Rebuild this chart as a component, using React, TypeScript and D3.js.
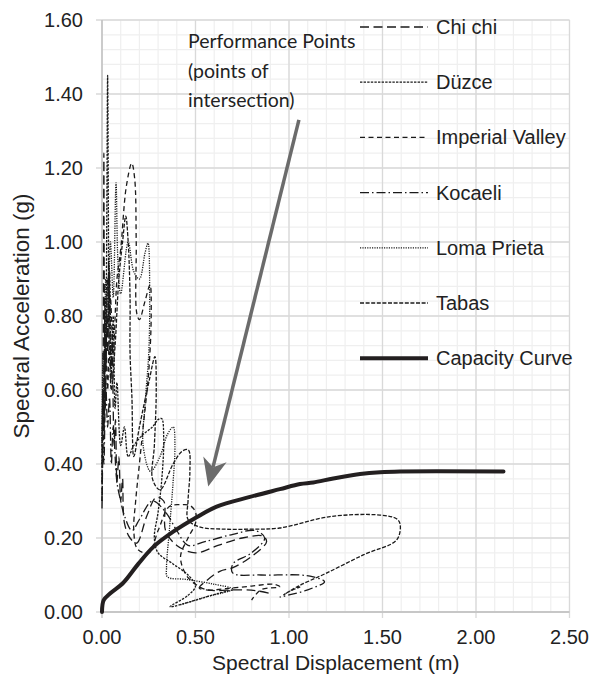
import React from 'react';
import * as d3 from 'd3';

// x: spectral displacement (m), y: spectral acceleration (g)
const chiChi: [number, number][] = [
  [0, 0.28], [0.004, 0.45], [0.008, 0.9], [0.01, 1.24], [0.012, 0.9], [0.018, 0.55], [0.025, 0.8],
  [0.03, 0.7], [0.036, 0.95], [0.042, 0.8], [0.048, 0.62], [0.055, 0.75], [0.06, 0.55], [0.065, 0.45],
  [0.072, 0.52], [0.08, 0.35], [0.09, 0.42], [0.1, 0.3], [0.11, 0.36], [0.12, 0.24], [0.15, 0.2],
  [0.185, 0.186], [0.24, 0.26], [0.29, 0.31], [0.33, 0.3], [0.34, 0.22], [0.4, 0.18], [0.5, 0.16],
  [0.62, 0.18], [0.75, 0.2], [0.86, 0.205], [0.88, 0.19], [0.8, 0.15], [0.7, 0.12], [0.63, 0.11],
  [0.56, 0.085], [0.52, 0.065], [0.6, 0.058], [0.72, 0.06], [0.82, 0.058], [0.9, 0.05],
];
const duzce: [number, number][] = [
  [0, 0.35], [0.005, 0.6], [0.01, 0.5], [0.016, 0.85], [0.02, 0.7], [0.026, 1.1], [0.03, 1.45],
  [0.034, 1.1], [0.037, 0.8], [0.041, 0.92], [0.05, 0.65], [0.06, 0.8], [0.07, 0.55], [0.08, 0.62],
  [0.1, 0.45], [0.12, 0.5], [0.14, 0.42], [0.17, 0.45], [0.22, 0.48], [0.27, 0.5], [0.3, 0.52],
  [0.319, 0.523], [0.33, 0.47], [0.32, 0.36], [0.3, 0.27], [0.28, 0.2], [0.3, 0.16], [0.38, 0.13],
  [0.46, 0.1], [0.5, 0.07], [0.46, 0.045], [0.364, 0.014], [0.5, 0.032], [0.62, 0.05], [0.7, 0.06],
];
const imperialValley: [number, number][] = [
  [0, 0.3], [0.005, 0.55], [0.01, 0.45], [0.02, 0.75], [0.03, 0.6], [0.045, 0.85], [0.06, 0.7],
  [0.08, 0.9], [0.1, 0.98], [0.13, 1.15], [0.159, 1.213], [0.175, 1.17], [0.183, 1.0], [0.186, 0.807],
  [0.2, 0.79], [0.23, 0.84], [0.257, 0.884], [0.263, 0.8], [0.25, 0.65], [0.22, 0.5], [0.2, 0.4],
  [0.18, 0.3], [0.17, 0.22], [0.19, 0.17], [0.25, 0.16], [0.3, 0.22], [0.36, 0.285], [0.42, 0.29],
  [0.47, 0.288], [0.5, 0.27], [0.5, 0.24], [0.46, 0.2], [0.42, 0.15], [0.45, 0.1], [0.5, 0.075],
  [0.56, 0.06], [0.66, 0.063], [0.8, 0.07], [0.92, 0.075], [0.95, 0.068], [0.85, 0.06], [0.8, 0.032],
];
const kocaeli: [number, number][] = [
  [0, 0.3], [0.005, 0.45], [0.01, 0.4], [0.02, 0.62], [0.03, 0.5], [0.04, 0.58], [0.05, 0.4],
  [0.06, 0.5], [0.08, 0.35], [0.1, 0.3], [0.12, 0.26], [0.16, 0.22], [0.2, 0.25], [0.27, 0.3],
  [0.34, 0.27], [0.4, 0.22], [0.46, 0.18], [0.55, 0.19], [0.7, 0.21], [0.82, 0.22], [0.87, 0.2],
  [0.8, 0.16], [0.7, 0.13], [0.7, 0.105], [0.85, 0.1], [1.06, 0.1], [1.13, 0.095], [1.19, 0.082],
  [1.1, 0.06], [1.0, 0.046], [0.95, 0.04],
];
const lomaPrieta: [number, number][] = [
  [0, 0.45], [0.005, 0.7], [0.01, 0.55], [0.02, 0.9], [0.03, 0.75], [0.045, 1.0], [0.06, 0.85],
  [0.075, 1.16], [0.085, 0.95], [0.1, 0.86], [0.14, 1.0], [0.17, 0.92], [0.2, 0.9], [0.23, 0.97],
  [0.246, 0.997], [0.255, 0.85], [0.25, 0.7], [0.23, 0.56], [0.22, 0.45], [0.26, 0.38], [0.31, 0.42],
  [0.35, 0.48], [0.381, 0.5], [0.39, 0.45], [0.38, 0.35], [0.36, 0.22], [0.345, 0.12], [0.35, 0.095],
  [0.45, 0.088], [0.6, 0.075], [0.7, 0.062], [0.55, 0.04], [0.417, 0.019],
];
const tabas: [number, number][] = [
  [0, 0.4], [0.005, 0.6], [0.01, 0.5], [0.015, 0.8], [0.02, 0.65], [0.03, 0.9], [0.04, 0.7],
  [0.05, 0.6], [0.07, 0.72], [0.09, 0.9], [0.11, 1.0], [0.127, 1.07], [0.14, 1.0], [0.15, 0.85],
  [0.15, 0.7], [0.16, 0.58], [0.17, 0.42], [0.2, 0.5], [0.25, 0.62], [0.283, 0.69], [0.29, 0.6],
  [0.28, 0.45], [0.27, 0.36], [0.31, 0.33], [0.38, 0.4], [0.43, 0.435], [0.462, 0.438], [0.47, 0.38],
  [0.46, 0.3], [0.46, 0.25], [0.52, 0.23], [0.65, 0.224], [0.8, 0.224], [0.95, 0.227], [1.22, 0.258],
  [1.487, 0.262], [1.575, 0.252], [1.594, 0.238], [1.576, 0.195], [1.4, 0.155], [1.2, 0.105],
  [1.05, 0.07], [0.97, 0.046], [1.0, 0.055], [1.06, 0.068],
];
const capacity: [number, number][] = [
  [0, 0], [0.009, 0.032], [0.043, 0.05], [0.114, 0.079], [0.194, 0.13], [0.275, 0.176],
  [0.381, 0.217], [0.506, 0.256], [0.613, 0.285], [0.791, 0.311], [0.951, 0.332], [1.059, 0.346],
  [1.13, 0.35], [1.237, 0.361], [1.38, 0.373], [1.487, 0.378], [1.594, 0.38], [2.147, 0.38],
];

const seriesNames = ['Chi chi', 'Düzce', 'Imperial Valley', 'Kocaeli', 'Loma Prieta', 'Tabas', 'Capacity Curve'];
const seriesData = [chiChi, duzce, imperialValley, kocaeli, lomaPrieta, tabas, capacity];
const dashes = ['9,4.5', '2.4,1.2', '5,3.5', '9,3,1.5,3', '1.2,1.2', '4,1.6', ''];

const xTicks = [0, 0.5, 1, 1.5, 2, 2.5];
const yTicks = [0, 0.2, 0.4, 0.6, 0.8, 1.0, 1.2, 1.4, 1.6];
const annotation = ['Performance Points', '(points of', 'intersection)'];
const arrowFrom: [number, number] = [1.053, 1.33];
const arrowTo: [number, number] = [0.568, 0.339];

const W = 594, H = 675;
const m = { left: 102, right: 569.5, top: 20, bottom: 612 };
const font = "'Liberation Sans', Arial, sans-serif";

export default function App() {
  const x = d3.scaleLinear().domain([0, 2.5]).range([m.left, m.right]);
  const y = d3.scaleLinear().domain([0, 1.6]).range([m.bottom, m.top]);
  const line = d3.line<[number, number]>().x(d => x(d[0])).y(d => y(d[1])).curve(d3.curveCatmullRom.alpha(0.5));

  const minorX = d3.range(0, 2.5001, 0.1);
  const minorY = d3.range(0, 1.6001, 0.04);

  // arrow geometry in pixels
  const [ax0, ay0] = [x(arrowFrom[0]), y(arrowFrom[1])];
  const [ax1, ay1] = [x(arrowTo[0]), y(arrowTo[1])];
  const len = Math.hypot(ax0 - ax1, ay0 - ay1);
  const ux = (ax0 - ax1) / len, uy = (ay0 - ay1) / len;
  const px = -uy, py = ux;
  const back = 28, notch = 20, half = 12;
  const head = [
    [ax1, ay1],
    [ax1 + ux * back + px * half, ay1 + uy * back + py * half],
    [ax1 + ux * notch, ay1 + uy * notch],
    [ax1 + ux * back - px * half, ay1 + uy * back - py * half],
  ];

  const legendY = (i: number) => 27 + i * 55.2;

  return (
    <svg width={W} height={H} style={{ position: 'absolute', left: 0, top: 0, background: '#fff' }}>
      <rect width={W} height={H} fill="#fff" />
      {minorX.map((v, i) => (
        <line key={'mx' + i} x1={x(v)} x2={x(v)} y1={m.top} y2={m.bottom} stroke="#efefef" strokeWidth={1.2} />
      ))}
      {minorY.map((v, i) => (
        <line key={'my' + i} x1={m.left} x2={m.right} y1={y(v)} y2={y(v)} stroke="#efefef" strokeWidth={1.2} />
      ))}
      {xTicks.map((v, i) => (
        <line key={'gx' + i} x1={x(v)} x2={x(v)} y1={m.top} y2={m.bottom + (i === 0 ? 0 : 6)} stroke="#d9d9d9" strokeWidth={1.3} />
      ))}
      {yTicks.map((v, i) => (
        <line key={'gy' + i} x1={m.left - 6} x2={m.right} y1={y(v)} y2={y(v)} stroke="#d9d9d9" strokeWidth={1.3} />
      ))}
      <line x1={m.left} x2={m.left} y1={m.top} y2={m.bottom + 6} stroke="#bfbfbf" strokeWidth={1.3} />
      <line x1={m.left} x2={m.right} y1={m.bottom} y2={m.bottom} stroke="#bfbfbf" strokeWidth={1.3} />

      {yTicks.map((v, i) => (
        <text key={'yl' + i} x={83} y={y(v) + 7} textAnchor="end" fontFamily={font} fontSize={20} fill="#222">
          {v.toFixed(2)}
        </text>
      ))}
      {xTicks.map((v, i) => (
        <text key={'xl' + i} x={x(v)} y={644} textAnchor="middle" fontFamily={font} fontSize={20} fill="#222">
          {v.toFixed(2)}
        </text>
      ))}
      <text x={(m.left + m.right) / 2} y={670} textAnchor="middle" fontFamily={font} fontSize={21} fill="#222">
        Spectral Displacement (m)
      </text>
      <text transform={`translate(29,${(m.top + m.bottom) / 2}) rotate(-90)`} textAnchor="middle" fontFamily={font} fontSize={22.5} fill="#222">
        Spectral Acceleration (g)
      </text>

      {seriesData.map((d, i) => (
        <path key={'s' + i} d={line(d) || ''} fill="none"
          stroke={i === 6 ? '#231f20' : '#1a1a1a'}
          strokeWidth={i === 6 ? 4 : 1.3}
          strokeDasharray={dashes[i] || undefined}
          strokeLinecap={i === 6 ? 'round' : 'butt'} />
      ))}

      <line x1={ax0} y1={ay0} x2={ax1 + ux * notch} y2={ay1 + uy * notch} stroke="#6b6b6b" strokeWidth={3.5} />
      <polygon points={head.map(p => p.join(',')).join(' ')} fill="#6b6b6b" />

      {annotation.map((t, i) => (
        <text key={'a' + i} x={188} y={48 + i * 29.5} fontFamily="Lato, 'Open Sans', sans-serif" fontSize={19.5} fill="#222">
          {t}
        </text>
      ))}

      {seriesNames.map((n, i) => (
        <g key={'lg' + i}>
          <line x1={360} x2={428} y1={legendY(i)} y2={legendY(i)}
            stroke={i === 6 ? '#231f20' : '#1a1a1a'}
            strokeWidth={i === 6 ? 4 : 1.3}
            strokeDasharray={dashes[i] || undefined} />
          <text x={436} y={legendY(i) + 7} fontFamily={font} fontSize={20} fill="#222">{n}</text>
        </g>
      ))}
    </svg>
  );
}
